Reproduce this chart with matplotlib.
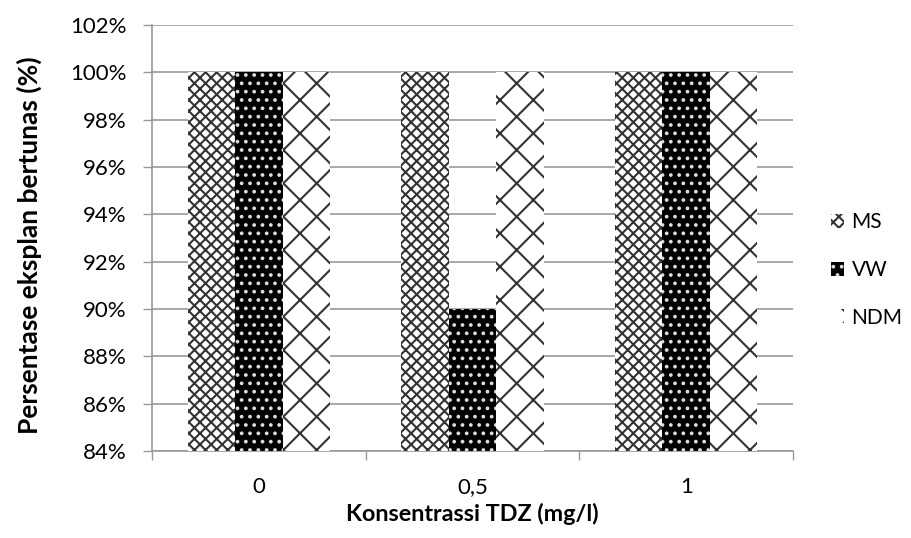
import matplotlib
matplotlib.use("Agg")
import matplotlib.pyplot as plt
import numpy as np

categories = ["0", "0,5", "1"]
series_names = ["MS", "VW", "NDM"]
ms = [100, 100, 100]
vw = [100, 90, 100]
ndm = [100, 100, 100]
yticks = [84, 86, 88, 90, 92, 94, 96, 98, 100, 102]

plt.rcParams['font.family'] = ['Lato', 'DejaVu Sans']
plt.rcParams['hatch.linewidth'] = 1.5

W, H = 912, 538
fig = plt.figure(figsize=(W / 100, H / 100), dpi=100)
ax = fig.add_axes([152 / W, 1 - 451 / H, 641 / W, 426 / H])

x = np.arange(len(categories))
w = 0.222
styles = [
    dict(facecolor='white', edgecolor='#333333', hatch='xxx'),
    dict(facecolor='black', edgecolor='#dddddd', hatch='..'),
    dict(facecolor='white', edgecolor='#333333', hatch='x'),
]
handles = []
for i, (vals, name, st) in enumerate(zip([ms, vw, ndm], series_names, styles)):
    b = ax.bar(x + (i - 1) * w, vals, w, label=name, linewidth=0, zorder=3, **st)
    handles.append(b)

gray = '#999999'
ax.set_ylim(84, 102)
ax.set_yticks(yticks)
ax.set_yticklabels([f"{v}%" for v in yticks], fontsize=16)
ax.set_xlim(-0.5, 2.5)
ax.set_xticks(x)
ax.set_xticklabels(categories, fontsize=16)
ax.set_xticks([-0.5, 0.5, 1.5, 2.5], minor=True)
ax.tick_params(axis='x', which='major', length=0, pad=19)
ax.tick_params(axis='x', which='minor', length=6.5, width=1, color=gray, direction='out')
ax.tick_params(axis='y', length=6.5, width=1, color=gray, direction='out', pad=12)
ax.yaxis.grid(True, color=gray, linewidth=1.2, zorder=0)
ax.set_axisbelow(True)
for s in ['top', 'right']:
    ax.spines[s].set_visible(False)
for s in ['left', 'bottom']:
    ax.spines[s].set_color(gray)
    ax.spines[s].set_linewidth(1.2)

ax.set_xlabel("Konsentrassi TDZ (mg/l)", fontsize=16.8, fontweight='bold', labelpad=4)
ax.set_ylabel("Persentase eksplan bertunas (%)", fontsize=19, fontweight='bold', labelpad=20)
ax.yaxis.label.set_y(0.484)

leg = fig.legend(handles=handles, labels=series_names, loc='center left',
                 bbox_to_anchor=(812 / W, 1 - 270 / H), frameon=False, fontsize=15,
                 handlelength=0.65, handleheight=0.65, labelspacing=1.32, handletextpad=0.35)

fig.savefig("out.png", dpi=100)
